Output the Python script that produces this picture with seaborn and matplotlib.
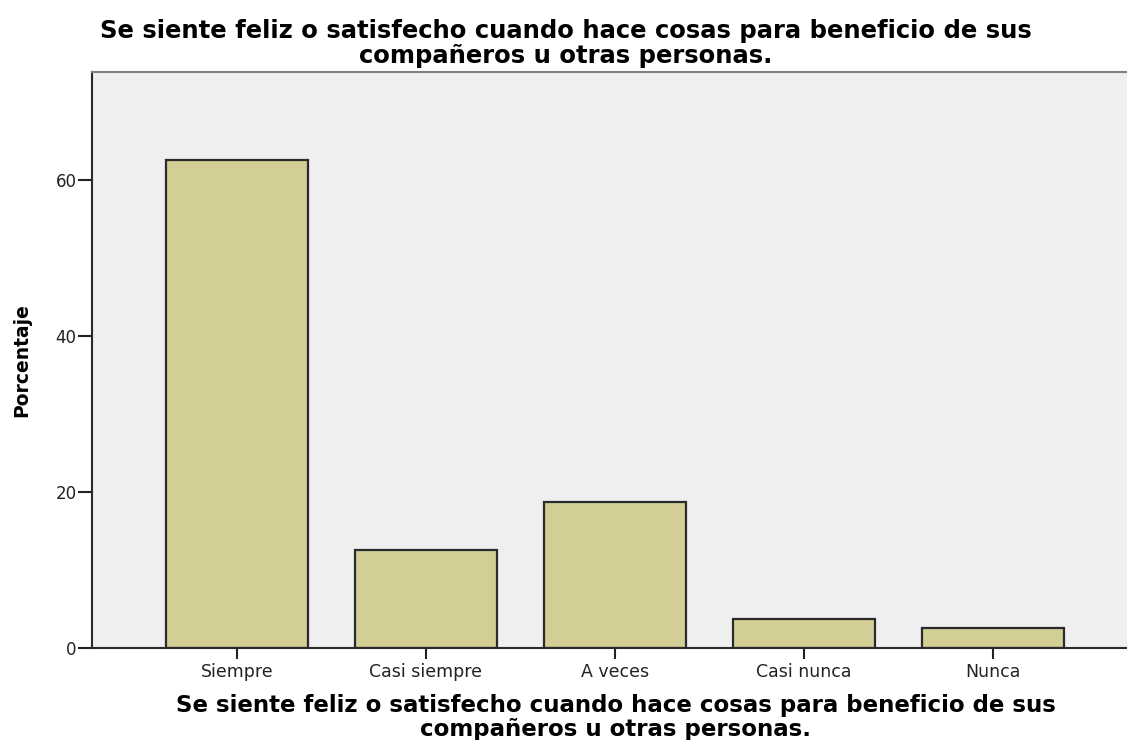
import matplotlib
matplotlib.use("Agg")
import matplotlib.pyplot as plt
import seaborn as sns

# Datos
categorias = ["Siempre", "Casi siempre", "A veces", "Casi nunca", "Nunca"]
porcentajes = [62.5, 12.5, 18.75, 3.75, 2.5]
ticks_y = [0, 20, 40, 60]

titulo = ("Se siente feliz o satisfecho cuando hace cosas para beneficio de sus\n"
          "compañeros u otras personas.")

plt.rcParams['font.family'] = ['DejaVu Sans']

fig = plt.figure(figsize=(11.27, 7.40), dpi=100)
ax = fig.add_axes([92 / 1127, 1 - 648 / 740, 1 - 92 / 1127, (648 - 72) / 740])
ax.set_facecolor('#efefef')

sns.barplot(x=categorias, y=porcentajes, ax=ax, color='#d3cd96',
            edgecolor='#2a2a2a', linewidth=1.6, width=0.75, saturation=1)

ax.set_ylim(0, 73.8)
ax.set_xlim(-0.767, 4.71)
ax.set_yticks(ticks_y)
ax.tick_params(axis='y', length=10, width=1.5, labelsize=12, pad=1, colors='#222222')
ax.tick_params(axis='x', length=8, width=1.5, labelsize=12.5, pad=3, colors='#222222')

ax.spines['right'].set_visible(False)
ax.spines['top'].set_color('#808080')
ax.spines['top'].set_linewidth(1.5)
ax.spines['left'].set_color('#2a2a2a')
ax.spines['left'].set_linewidth(1.5)
ax.spines['bottom'].set_color('#2a2a2a')
ax.spines['bottom'].set_linewidth(1.5)

ax.set_ylabel('Porcentaje', fontsize=13.5, fontweight='bold', va='center')
ax.yaxis.set_label_coords(-0.0676, 0.5)

ax.set_xlabel(titulo, fontsize=16.5, fontweight='bold', linespacing=1.05, va='top')
ax.xaxis.set_label_coords(0.506, -0.0799)

fig.text(566 / 1127, 1 - 19 / 740, titulo, ha='center', va='top', fontsize=17.5,
         fontweight='bold', linespacing=1.05)

fig.savefig('out.png', dpi=100)
